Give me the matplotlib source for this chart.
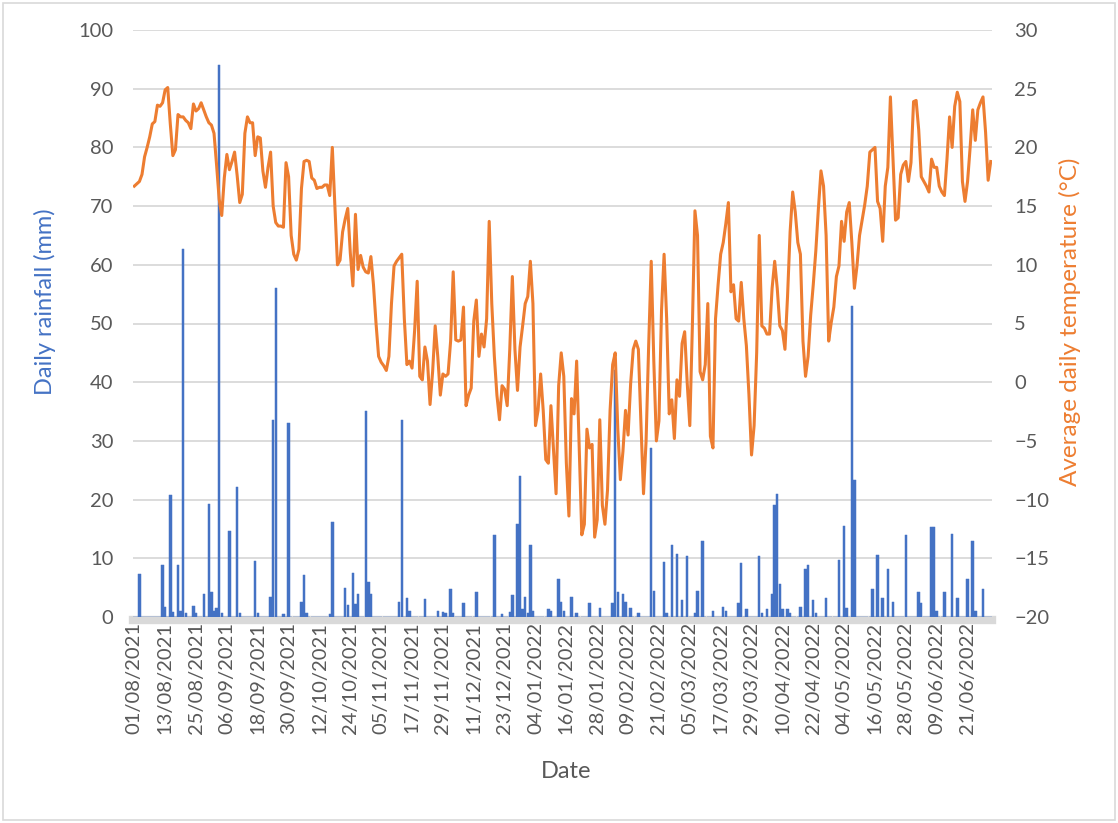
import matplotlib
matplotlib.use("Agg")
import matplotlib.pyplot as plt
from matplotlib.patches import Rectangle
import numpy as np
import pandas as pd

plt.rcParams['font.family'] = ['Lato', 'DejaVu Sans']

# Daily series: 01/08/2021 .. 30/06/2022
start_date = "2021-08-01"
end_date = "2022-06-30"

# Average daily temperature (°C), one value per day
temperature = [
    16.7, 16.9, 17.1, 17.7, 19.2, 20.0, 20.9, 22.0, 22.2, 23.6,
    23.5, 23.8, 24.9, 25.1, 22.0, 19.3, 19.8, 22.8, 22.6, 22.6,
    22.3, 22.1, 21.6, 23.7, 23.1, 23.3, 23.8, 23.2, 22.6, 22.1,
    21.9, 21.2, 18.5, 15.6, 14.2, 17.4, 19.4, 18.1, 18.8, 19.6,
    17.6, 15.3, 16.0, 21.2, 22.6, 22.1, 22.1, 19.3, 20.9, 20.8,
    18.0, 16.6, 18.3, 19.6, 15.0, 13.6, 13.3, 13.3, 13.2, 18.7,
    17.5, 12.5, 10.9, 10.4, 11.3, 16.5, 18.8, 18.9, 18.8, 17.4,
    17.2, 16.5, 16.6, 16.6, 16.8, 16.8, 15.9, 20.0, 15.0, 10.0,
    10.4, 12.8, 13.9, 14.8, 11.0, 8.2, 14.3, 9.6, 10.8, 9.8,
    9.4, 9.3, 10.7, 8.3, 5.0, 2.2, 1.7, 1.4, 1.0, 2.2,
    6.7, 9.9, 10.3, 10.6, 10.9, 5.4, 1.5, 1.8, 1.2, 4.4,
    8.6, 0.5, 0.2, 3.0, 1.8, -1.9, 0.9, 4.8, 2.2, -1.1,
    0.7, 0.5, 0.7, 3.5, 9.4, 3.6, 3.5, 3.6, 6.4, -2.0,
    -1.1, -0.5, 5.2, 7.0, 2.2, 4.1, 3.0, 5.4, 13.7, 6.7,
    2.2, -1.1, -3.2, -0.3, -0.6, -2.0, 2.8, 9.0, 2.8, -0.7,
    3.0, 4.8, 6.7, 7.3, 10.3, 6.7, -3.7, -2.4, 0.7, -2.4,
    -6.6, -6.9, -2.0, -5.8, -9.5, -0.3, 2.5, 0.5, -6.9, -11.4,
    -1.4, -2.7, 1.8, -5.6, -13.0, -12.1, -4.0, -5.6, -5.3, -13.2,
    -11.7, -3.2, -10.5, -12.1, -9.2, -2.4, 1.5, 2.5, -4.0, -8.3,
    -5.9, -2.4, -4.5, -0.1, 2.8, 3.5, 2.8, -3.5, -9.5, -5.0,
    3.1, 10.3, 1.8, -5.0, -3.3, 6.1, 10.9, 5.4, -2.7, -1.5,
    -4.8, 0.2, -1.2, 3.3, 4.3, -0.1, -3.7, 4.8, 14.6, 12.5,
    0.9, 0.2, 1.5, 6.7, -4.6, -5.6, 5.4, 8.3, 10.9, 11.9,
    13.5, 15.3, 7.7, 8.3, 5.4, 5.2, 8.5, 5.4, 3.1, -1.1,
    -6.2, -3.7, 2.5, 12.5, 4.8, 4.6, 4.1, 4.1, 8.0, 10.3,
    8.0, 4.8, 4.4, 2.8, 7.3, 12.8, 16.2, 14.5, 11.9, 10.9,
    3.5, 0.5, 2.2, 5.7, 8.3, 11.2, 14.8, 18.0, 16.7, 12.5,
    3.5, 5.1, 6.4, 9.0, 9.9, 13.7, 12.0, 14.5, 15.3, 11.9,
    8.0, 9.9, 12.5, 13.8, 15.1, 16.7, 19.6, 19.8, 20.0, 15.4,
    14.8, 12.0, 16.7, 18.3, 24.3, 19.0, 13.8, 14.0, 17.7, 18.5,
    18.8, 17.1, 18.7, 23.9, 24.0, 21.5, 17.5, 17.1, 16.7, 16.2,
    19.0, 18.3, 18.3, 16.7, 16.2, 15.9, 19.0, 22.6, 20.0, 23.5,
    24.7, 23.9, 17.1, 15.4, 17.1, 20.0, 23.2, 20.6, 23.2, 23.8,
    24.3, 21.3, 17.2, 18.8,
]

# Rain days (day number counted from 01/08/2021) and daily rainfall (mm)
rain_day = [
    2, 11, 12, 14, 15, 17, 18, 19, 20, 23, 24, 27, 29, 30, 31, 32, 33, 34,
    37, 40, 41, 47, 48, 53, 54, 55, 58, 60, 65, 66, 67, 76, 77, 82, 83, 85,
    86, 87, 90, 91, 92, 103, 104, 106, 107, 113, 118, 120, 121, 123, 124,
    128, 133, 140, 143, 146, 147, 149, 150, 151, 152, 153, 154, 155, 161,
    162, 165, 166, 167, 170, 172, 177, 181, 186, 187, 188, 190, 191, 193,
    196, 201, 202, 206, 207, 209, 211, 213, 215, 218, 219, 221, 225, 229,
    230, 235, 236, 238, 243, 244, 246, 248, 249, 250, 251, 252, 254, 255,
    259, 261, 262, 264, 265, 269, 274, 276, 277, 279, 280, 287, 289, 291,
    293, 295, 300, 305, 306, 310, 311, 312, 315, 318, 320, 324, 326, 327,
    330,
]
rain_mm = [
    7.3, 8.9, 1.7, 20.7, 0.8, 8.9, 1.0, 62.7, 0.6, 1.9, 0.6, 4.0, 19.2, 4.3,
    1.0, 1.6, 94.0, 0.6,
    14.7, 22.1, 0.6, 9.5, 0.6, 3.4, 33.5, 56.1, 0.5, 33.1, 2.5, 7.1, 0.6,
    0.5, 16.2, 4.9, 2.0, 7.5,
    2.2, 4.0, 35.1, 6.0, 3.9, 2.6, 33.5, 3.2, 1.0, 3.0, 1.1, 0.8, 0.6, 4.7,
    0.6,
    2.4, 4.3, 13.9, 0.5, 0.8, 3.7, 15.9, 24.1, 1.3, 3.4, 0.6, 12.3, 1.0, 1.4,
    1.0, 6.4, 2.6, 1.0, 3.4, 0.6, 2.4, 1.5, 2.3, 42.1, 4.3, 4.0, 2.6, 1.6,
    0.6, 28.8, 4.5, 9.4, 0.6, 12.3, 10.7, 2.9, 10.4, 0.6, 4.5, 12.9, 1.0, 1.7,
    1.0, 2.3, 9.2, 1.4, 10.4, 0.6, 1.3, 4.0, 19.1, 21.0, 5.6, 1.4, 1.4, 0.6,
    1.7, 8.1, 8.9, 2.9, 0.6, 3.2, 9.7, 15.5, 1.6, 53.0, 23.4, 4.7, 10.5, 3.3,
    8.1, 2.5, 14.0, 4.3, 2.3, 15.3, 15.3, 1.0, 4.3, 14.2, 3.2, 6.5, 12.9, 1.0,
    4.7,
]

dates = pd.date_range(start_date, end_date, freq="D")
n_days = len(dates)
day_index = np.arange(n_days)
rainfall = np.zeros(n_days)
rainfall[rain_day] = rain_mm

BLUE = "#4472C4"
ORANGE = "#ED7D31"
GRID = "#D9D9D9"
TEXT = "#595959"

W, H = 1118, 823
fig = plt.figure(figsize=(W / 100, H / 100), dpi=100)
fig.patch.set_facecolor("white")

left, right, top, bottom = 133, 992, 30, 617
ax = fig.add_axes([left / W, 1 - bottom / H, (right - left) / W, (bottom - top) / H])
ax2 = ax.twinx()

ax.bar(day_index, rainfall, width=0.95, color=BLUE, edgecolor=BLUE,
       linewidth=0.35, zorder=3)
ax2.plot(day_index, temperature, color=ORANGE, linewidth=2.2,
         solid_joinstyle="round", zorder=4)

ax.set_xlim(-0.5, n_days - 0.5)
ax.set_ylim(0, 100)
ax2.set_ylim(-20, 30)
ax.set_yticks(np.arange(0, 101, 10))
ax2.set_yticks(np.arange(-20, 31, 5))

ax.grid(axis="y", color=GRID, linewidth=1.3, zorder=0)
ax.set_axisbelow(True)

for a in (ax, ax2):
    for s in a.spines.values():
        s.set_visible(False)
ax.spines["bottom"].set_visible(True)
ax.spines["bottom"].set_color(GRID)
ax.spines["bottom"].set_linewidth(6)
ax.spines["bottom"].set_position(("outward", 2))

# date labels every 12 days (set after the spine is moved, which resets ticks)
tick_pos = day_index[::12]
ax.set_xticks(tick_pos)
ax.set_xticklabels([dates[i].strftime("%d/%m/%Y") for i in tick_pos])

ax.tick_params(axis="x", length=0, pad=1.5, labelsize=14.5, labelcolor=TEXT,
               labelrotation=90)
ax.tick_params(axis="y", length=0, pad=14, labelsize=14.5, labelcolor=TEXT)
ax2.tick_params(axis="y", length=0, pad=16, labelsize=14.5, labelcolor=TEXT)

fig.text(45 / W, 1 - 302 / H, "Daily rainfall (mm)", rotation=90, color=BLUE,
         fontsize=17, ha="center", va="center")
fig.text(1070 / W, 1 - 322 / H, "Average daily temperature (°C)", rotation=90,
         color=ORANGE, fontsize=17.5, ha="center", va="center")
fig.text(566 / W, 1 - 772 / H, "Date", color=TEXT, fontsize=17,
         ha="center", va="center")

fig.patches.append(Rectangle((3 / W, 3 / H), 1112 / W, 817 / H,
                             transform=fig.transFigure, fill=False,
                             edgecolor=GRID, linewidth=1.2))

fig.savefig("out.png", dpi=100)
